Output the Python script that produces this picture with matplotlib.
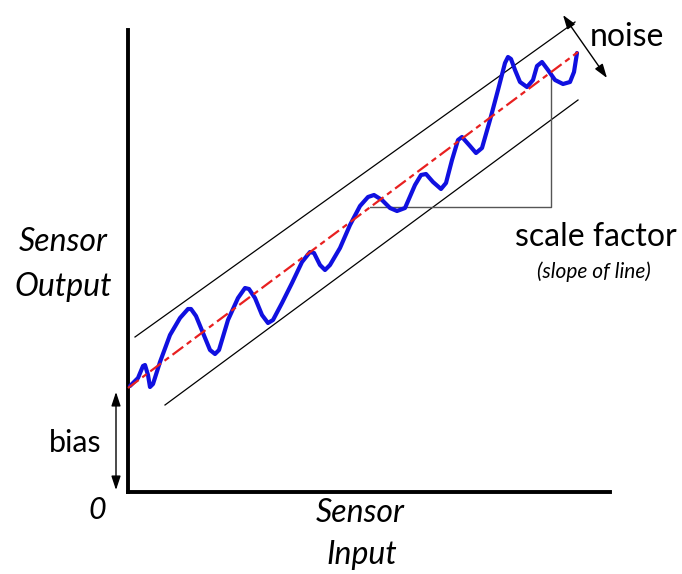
import numpy as np
import matplotlib.pyplot as plt

# schematic data (arbitrary units, origin at the axes corner)
sig_x = [2, 10, 15, 17, 20, 22, 25, 32, 42, 52, 60, 63, 68, 75, 82, 87, 91, 100, 110, 117,
         121, 127, 134, 140, 145, 154, 164, 174, 182, 186, 192, 197, 202, 212, 222, 232, 240,
         246, 254, 262, 269, 277, 287, 293, 298, 305, 313, 318, 324, 330, 334, 342, 348, 354,
         362, 370, 377, 380, 383, 387, 392, 399, 405, 409, 414, 420, 427, 435, 442, 446, 449]
sig_y = [106, 114, 126, 127, 117, 105, 108, 130, 157, 174, 183, 183, 176, 159, 142, 138, 142,
         172, 194, 204, 203, 194, 177, 169, 172, 189, 209, 230, 240, 239, 227, 222, 227, 244,
         267, 286, 295, 297, 292, 284, 281, 284, 307, 317, 318, 310, 303, 309, 332, 352, 355,
         346, 339, 344, 372, 402, 429, 435, 433, 422, 410, 405, 412, 426, 430, 422, 412, 408,
         410, 420, 439]
fit_x = [0, 450]
fit_y = [104, 440]
upper_x = [7, 447]
upper_y = [155, 470]
lower_x = [37, 450]
lower_y = [87, 392]
# scale factor triangle
tri_x = [242, 423, 423]
tri_y = [285, 285, 418]

plt.rcParams['font.family'] = ['Lato', 'DejaVu Sans']

fig = plt.figure(figsize=(6.82, 5.74), dpi=100)
ax = fig.add_axes([128/682, 82/574, 482/682, 462/574])
ax.set_xlim(0, 482)
ax.set_ylim(0, 462)
ax.spines['top'].set_visible(False)
ax.spines['right'].set_visible(False)
ax.spines['left'].set_linewidth(2.8)
ax.spines['bottom'].set_linewidth(2.8)
ax.set_xticks([])
ax.set_yticks([])

ax.plot(upper_x, upper_y, color='black', lw=0.9, clip_on=False)
ax.plot(lower_x, lower_y, color='black', lw=0.9, clip_on=False)
ax.plot(tri_x, tri_y, color='#555555', lw=1.0, clip_on=False)
ax.plot(sig_x, sig_y, color='#1010e0', lw=3.0, solid_joinstyle='round',
        solid_capstyle='round', clip_on=False, zorder=3)
ax.plot(fit_x, fit_y, color='#e82020', lw=1.6, dashes=(6, 2, 2.5, 2), clip_on=False, zorder=4)

arr = dict(arrowstyle='<|-|>,head_length=0.6,head_width=0.2', color='black', lw=1.0,
           mutation_scale=14, shrinkA=0, shrinkB=0)
ax.annotate('', xy=(-12, 100), xytext=(-12, 2), arrowprops=arr, annotation_clip=False)
ax.annotate('', xy=(435, 477), xytext=(479, 414), arrowprops=arr, annotation_clip=False)

ax.text(499, 455, 'noise', fontsize=23, ha='center', va='center', clip_on=False)
ax.text(468, 255, 'scale factor', fontsize=23, ha='center', va='center', clip_on=False)
ax.text(466, 220, '(slope of line)', fontsize=15, style='italic', ha='center', va='center')
ax.text(-65, 250, 'Sensor', fontsize=23, style='italic', ha='center', va='center')
ax.text(-65, 205, 'Output', fontsize=23, style='italic', ha='center', va='center')
ax.text(-53, 49, 'bias', fontsize=22, ha='center', va='center')
ax.text(-31, -18, '0', fontsize=22, style='italic', ha='center', va='center')
ax.text(232, -21, 'Sensor', fontsize=23, style='italic', ha='center', va='center')
ax.text(234, -63, 'Input', fontsize=23, style='italic', ha='center', va='center')

fig.savefig('out.png', dpi=100, facecolor='white')
